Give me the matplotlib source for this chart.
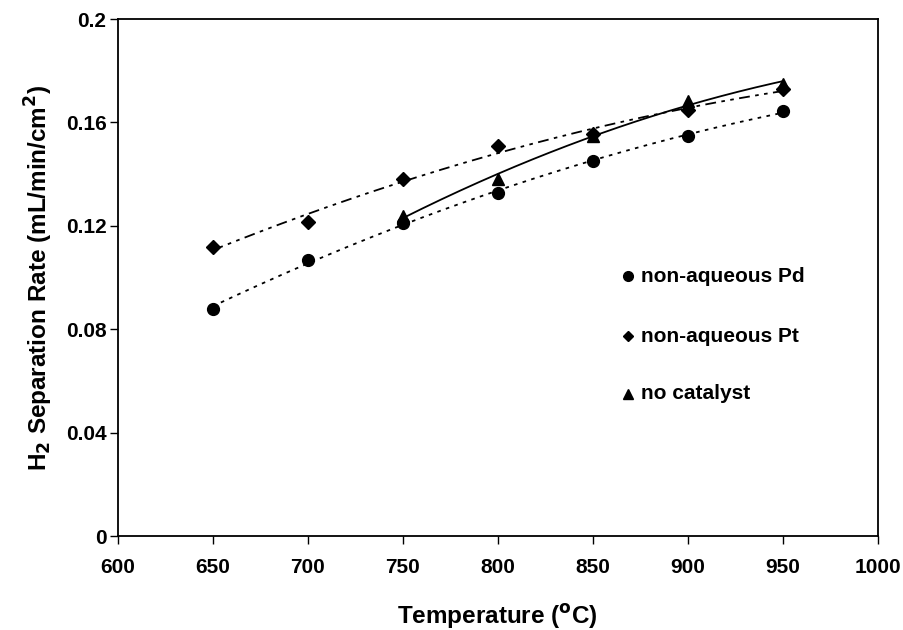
import numpy as np
import matplotlib
matplotlib.use("Agg")
import matplotlib.pyplot as plt

plt.rcParams['font.family'] = ['Liberation Sans', 'DejaVu Sans']
plt.rcParams['font.weight'] = 'bold'

temp_pd = [650, 700, 750, 800, 850, 900, 950]
rate_pd = [0.0878, 0.1069, 0.1212, 0.1328, 0.1451, 0.1546, 0.1645]
temp_pt = [650, 700, 750, 800, 850, 900, 950]
rate_pt = [0.1117, 0.1216, 0.1383, 0.1510, 0.1555, 0.1650, 0.1728]
temp_nc = [750, 800, 850, 900, 950]
rate_nc = [0.1240, 0.1380, 0.1548, 0.1685, 0.1750]

labels = ['non-aqueous Pd', 'non-aqueous Pt', 'no catalyst']
xticks = [600, 650, 700, 750, 800, 850, 900, 950, 1000]
yticks = [0, 0.04, 0.08, 0.12, 0.16, 0.2]
ytick_labels = ['0', '0.04', '0.08', '0.12', '0.16', '0.2']

fig = plt.figure(figsize=(9.04, 6.3), dpi=100)
ax = fig.add_axes([0.1302, 0.149, 0.8407, 0.8207])

def trend(x, y, ls):
    c = np.polyfit(x, y, 2)
    xs = np.linspace(min(x), max(x), 200)
    ax.plot(xs, np.polyval(c, xs), color='black', lw=1.3, linestyle=ls)

trend(temp_pd, rate_pd, (0, (2, 3)))
trend(temp_pt, rate_pt, (0, (6, 3, 2, 3, 2, 3)))
trend(temp_nc, rate_nc, '-')

ax.plot(temp_pd, rate_pd, 'o', color='black', ms=8.5, ls='none')
ax.plot(temp_pt, rate_pt, 'D', color='black', ms=7, ls='none')
ax.plot(temp_nc, rate_nc, '^', color='black', ms=8.5, ls='none')

ax.set_xlim(600, 1000)
ax.set_ylim(0, 0.2)
ax.set_xticks(xticks)
ax.set_yticks(yticks)
ax.set_yticklabels(ytick_labels)
ax.tick_params(direction='out', length=6, width=1, labelsize=15)
ax.tick_params(axis='x', pad=10)
ax.tick_params(axis='y', pad=2)
for lab in ax.get_xticklabels() + ax.get_yticklabels():
    lab.set_fontweight('bold')
for s in ax.spines.values():
    s.set_linewidth(1.3)

ax.set_xlabel('Temperature ($\\mathbf{^{o}}$C)', fontsize=17.5, fontweight='bold', labelpad=18)
ax.set_ylabel('H$_\\mathbf{2}$ Separation Rate (mL/min/cm$\\mathbf{^{2}}$)', fontsize=17.5, fontweight='bold', labelpad=8)

# legend entries
markers = ['o', 'D', '^']
msizes = [7, 5.5, 7]
leg_y = [0.503, 0.387, 0.275]
for m, ms, yy, lab in zip(markers, msizes, leg_y, labels):
    ax.plot([0.671], [yy], marker=m, color='black', ms=ms, transform=ax.transAxes, clip_on=False)
    ax.text(0.688, yy, lab, transform=ax.transAxes, fontsize=15, fontweight='bold', va='center', ha='left')

fig.savefig('out.png', dpi=100)
